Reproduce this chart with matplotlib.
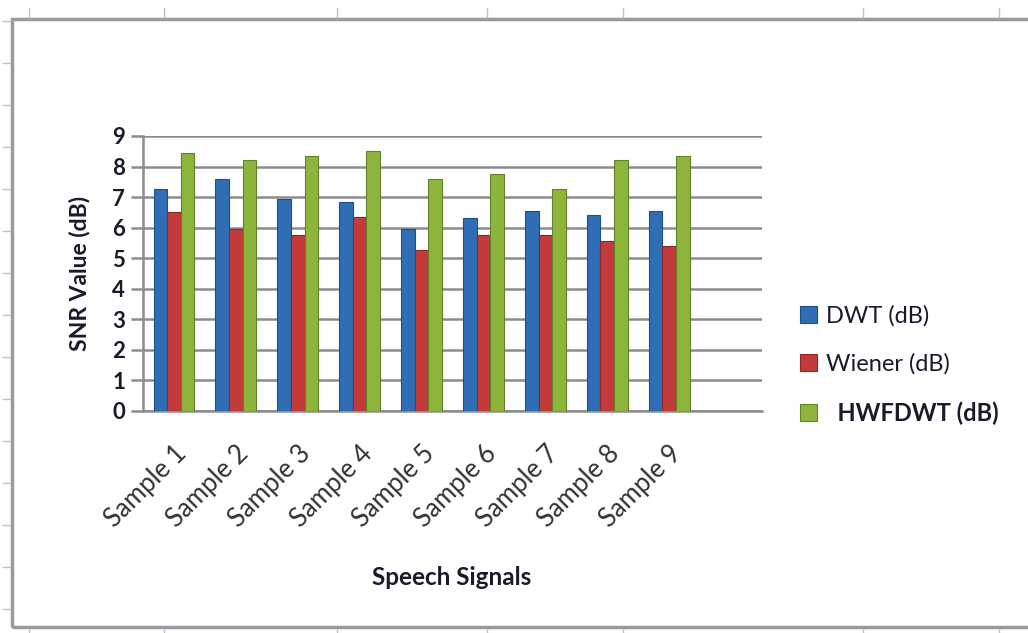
import numpy as np
import matplotlib
matplotlib.use("Agg")
import matplotlib.pyplot as plt
from matplotlib.patches import Rectangle
from matplotlib.lines import Line2D

plt.rcParams['font.family'] = ['Lato', 'DejaVu Sans']

# Data
samples = ["Sample 1", "Sample 2", "Sample 3", "Sample 4", "Sample 5",
           "Sample 6", "Sample 7", "Sample 8", "Sample 9"]
dwt = [7.25, 7.6, 6.95, 6.85, 5.95, 6.3, 6.55, 6.4, 6.55]
wiener = [6.5, 5.95, 5.75, 6.35, 5.25, 5.75, 5.75, 5.55, 5.4]
hwfdwt = [8.45, 8.2, 8.35, 8.5, 7.6, 7.75, 7.25, 8.2, 8.35]
series_names = ["DWT (dB)", "Wiener (dB)", "  HWFDWT (dB)"]
colors = ["#2f6db5", "#c33a3a", "#8db53c"]
edges = ["#1f4f88", "#8e2727", "#62822a"]

fig = plt.figure(figsize=(10.28, 6.33), dpi=100)
W, H = 1028, 633

# outer chart frame
fig.add_artist(Rectangle((12 / W, 1 - 627 / H), 1.2, (627 - 19) / H,
                         transform=fig.transFigure, fill=False,
                         edgecolor="#9a9a9a", linewidth=2.5))
# spreadsheet ruler ticks around the frame
for xp in [29, 164, 337, 487, 623, 863, 999]:
    fig.add_artist(Line2D([xp / W, xp / W], [1 - 8 / H, 1 - 17 / H],
                          transform=fig.transFigure, color="#b8c0d8", lw=1))
    fig.add_artist(Line2D([xp / W, xp / W], [1 - 629 / H, 1 - 633 / H],
                          transform=fig.transFigure, color="#b8c0d8", lw=1))
for yp in range(21, 620, 42):
    fig.add_artist(Line2D([3 / W, 10 / W], [1 - yp / H, 1 - yp / H],
                          transform=fig.transFigure, color="#b8c0d8", lw=1))

ax = fig.add_axes([143 / W, 1 - 410.7 / H, 619 / W, 274.7 / H])

x = np.arange(len(samples))
bw = 0.22
bars = []
for i, (vals, c, ec) in enumerate(zip([dwt, wiener, hwfdwt], colors, edges)):
    b = ax.bar(x + (i - 1) * bw, vals, bw, color=c, edgecolor=ec,
               linewidth=0.8, zorder=3, label=series_names[i])
    bars.append(b)

ax.set_xlim(-0.5, 9.5)
ax.set_ylim(0, 9)
ax.set_yticks(range(0, 10))
ax.yaxis.grid(True, color="#8c8c8c", linewidth=1.8, zorder=0)
ax.set_axisbelow(True)
for s in ["top", "right"]:
    ax.spines[s].set_visible(False)
ax.spines["left"].set_color("#8c8c8c")
ax.spines["left"].set_linewidth(1.8)
ax.spines["bottom"].set_color("#8c8c8c")
ax.spines["bottom"].set_linewidth(1.8)
ax.tick_params(axis="y", length=9, width=1.8, color="#8c8c8c", pad=4,
               labelsize=16)
for t in ax.get_yticklabels():
    t.set_fontweight("bold")
    t.set_color("#1a1a2a")
ax.set_xticks(x)
ax.set_xticklabels(samples, rotation=45, ha="right", rotation_mode="anchor",
                   fontsize=18.5, color="#333333")
ax.tick_params(axis="x", length=0, pad=22)

ax.set_ylabel("SNR Value (dB)", fontsize=16.5, fontweight="bold",
              color="#1a1a2a")
ax.yaxis.set_label_coords(-0.085, 0.5)
ax.set_xlabel("Speech Signals", fontsize=17.5, fontweight="bold",
              color="#1a1a2a")
ax.xaxis.set_label_coords(0.499, -0.567)

leg = fig.legend(handles=bars, labels=series_names, loc="upper left",
                 bbox_to_anchor=(779 / W, 1 - 284 / H), frameon=False,
                 fontsize=17, handlelength=0.7, handleheight=0.7,
                 handletextpad=0.4, labelspacing=1.12)
leg.get_texts()[2].set_fontweight("bold")
for t in leg.get_texts():
    t.set_color("#1a1a2a")

fig.savefig("out.png", dpi=100)
